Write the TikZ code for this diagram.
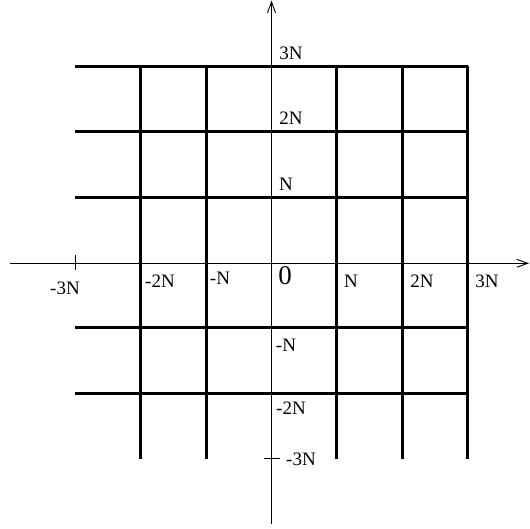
\documentclass[tikz,border=0pt]{standalone}
\usepackage{fontspec}
\setmainfont{Liberation Serif}
\usetikzlibrary{arrows.meta}
\begin{document}
\begin{tikzpicture}[x=1pt,y=-1pt,
  gridline/.style={line width=3pt},
  axisline/.style={line width=0.9pt,-{Straight Barb[length=11pt,width=8pt,line width=0.9pt]}},
  tickline/.style={line width=0.9pt},
  lbl/.style={font=\fontsize{19}{21}\selectfont, inner sep=0pt},
  zlbl/.style={font=\fontsize{27}{29}\selectfont, inner sep=0pt}]
\useasboundingbox (0,0) rectangle (530,529);
% grid
\foreach \yy in {66.3,131.7,197.1,327.9,393.3}
  \draw[gridline] (75.3,\yy) -- (467.7,\yy);
\foreach \xx in {140.7,206.1,336.9,402.3,467.7}
  \draw[gridline] (\xx,66.3) -- (\xx,458.7);
% axes
\coordinate (xl) at (10,263.3);
\coordinate (xr) at (529,263.3);
\coordinate (yb) at (271.5,524);
\coordinate (yt) at (271.5,0.5);
\draw[axisline] (xl) -- (xr);
\draw[axisline] (yb) -- (yt);
% ticks
\coordinate (tx1) at (75.3,255);
\coordinate (tx2) at (75.3,270);
\draw[tickline] (tx1) -- (tx2);
\coordinate (ty1) at (263.5,458.7);
\coordinate (ty2) at (279.5,458.7);
\draw[tickline] (ty1) -- (ty2);
% x labels
\node[lbl] (lxm3) at (65,288) {-3N};
\node[lbl] (lxm2) at (160,281) {-2N};
\node[lbl] (lxm1) at (220,278) {-N};
\node[zlbl] (lzero) at (285,276) {0};
\node[lbl] (lx1) at (351,281) {N};
\node[lbl] (lx2) at (422,281) {2N};
\node[lbl] (lx3) at (487,281) {3N};
% y labels
\node[lbl] (ly3) at (291,53) {3N};
\node[lbl] (ly2) at (291,118) {2N};
\node[lbl] (ly1) at (286,184) {N};
\node[lbl] (lym1) at (286,345) {-N};
\node[lbl] (lym2) at (291,408) {-2N};
\node[lbl] (lym3) at (301,459) {-3N};
\end{tikzpicture}
\end{document}
